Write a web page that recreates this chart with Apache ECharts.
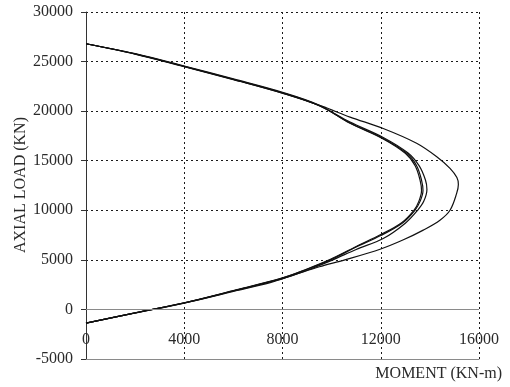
<!DOCTYPE html>
<html>
<head>
<meta charset="utf-8">
<script src="https://cdn.jsdelivr.net/npm/echarts@6/dist/echarts.min.js"></script>
<style>
  html, body { margin: 0; padding: 0; background: #fff; }
  #chart { width: 510px; height: 387px; }
</style>
</head>
<body>
<div id="chart"></div>
<script>
// Axial load – moment interaction curves (moment in KN-m, load in KN)
const xTicks = [0, 4000, 8000, 12000, 16000];
const yTicks = [-5000, 0, 5000, 10000, 15000, 20000, 25000, 30000];

const curveA = [
  [0, 26800], [2000, 25780], [4000, 24520], [6000, 23220], [8000, 21850],
  [9500, 20550], [10750, 18800], [12100, 17250], [13060, 15750], [13460, 14500],
  [13660, 13050], [13720, 12000], [13600, 10900], [13390, 10000], [12900, 8750],
  [12000, 7450], [11000, 6300], [10000, 5050], [9000, 4050], [8000, 3150],
  [6000, 1880], [4000, 660], [2000, -350], [0, -1380]
];
const curveB = [
  [0, 26800], [2000, 25760], [4000, 24500], [6000, 23190], [8000, 21820],
  [9500, 20550], [10750, 18900], [12100, 17350], [13100, 15800], [13560, 14500],
  [13820, 13050], [13880, 12100], [13750, 10900], [13500, 10000], [13000, 8700],
  [12100, 7150], [11000, 6050], [10050, 5000], [9000, 3950], [8000, 3100],
  [6000, 1860], [4000, 650], [2000, -350], [0, -1380]
];
const curveC = [
  [0, 26800], [2000, 25800], [4000, 24550], [6000, 23250], [8000, 21900],
  [9500, 20600], [10750, 18780], [12100, 17200], [13000, 15750], [13400, 14500],
  [13600, 13050], [13660, 12000], [13550, 10900], [13350, 10000], [12850, 8750],
  [12000, 7550], [11000, 6350], [9950, 5050], [9000, 4080], [8000, 3180],
  [6000, 1900], [4000, 670], [2000, -340], [0, -1380]
];
const curveD = [
  [0, 26800], [2000, 25750], [4000, 24480], [6000, 23180], [8000, 21800],
  [9600, 20500], [10750, 19400], [12100, 18250], [13460, 16760], [14280, 15400],
  [14820, 14230], [15100, 13300], [15160, 12600], [15090, 11700], [14820, 10000],
  [14410, 9000], [13730, 8000], [12900, 7000], [12000, 6100], [10540, 5000],
  [9500, 4300], [8500, 3500], [7500, 2700], [6000, 1820], [4000, 640],
  [2000, -360], [0, -1380]
];
const curves = [curveA, curveB, curveC, curveD];

const FONT = '"Liberation Serif", "Times New Roman", serif';
const TEXT = '#2a2a2a';
const dotted = { color: '#1a1a1a', width: 1, type: [2, 3] };
const plain = function (v) { return String(v); };

const chart = echarts.init(document.getElementById('chart'), null, { renderer: 'canvas' });

const series = curves.map(function (pts) {
  return {
    type: 'line',
    data: pts,
    showSymbol: false,
    smooth: 0.35,
    lineStyle: { color: '#111', width: 1.2 },
    z: 3
  };
});
// solid zero-load line across the plot
series[0].markLine = {
  silent: true, symbol: 'none', label: { show: false },
  lineStyle: { color: '#8a8a8a', type: 'solid', width: 1 },
  data: [{ yAxis: 0 }]
};

chart.setOption({
  animation: false,
  backgroundColor: '#ffffff',
  grid: { left: 86, right: 31, top: 12, bottom: 28, containLabel: false, outerBoundsMode: 'none' },
  xAxis: {
    type: 'value',
    position: 'bottom',
    min: xTicks[0], max: xTicks[xTicks.length - 1], interval: 4000,
    axisLine: { show: true, onZero: false, lineStyle: { color: '#8a8a8a', width: 1 } },
    axisTick: { show: false },
    axisLabel: { margin: -27, fontFamily: FONT, fontSize: 16, color: TEXT, formatter: plain },
    splitLine: { show: true, lineStyle: dotted }
  },
  yAxis: {
    type: 'value',
    min: yTicks[0], max: yTicks[yTicks.length - 1], interval: 5000,
    axisLine: { show: true, onZero: false, lineStyle: { color: '#333', width: 1 } },
    axisTick: { show: true, length: 5, lineStyle: { color: '#333' } },
    axisLabel: { margin: 13, fontFamily: FONT, fontSize: 16, color: TEXT, formatter: plain },
    splitLine: { show: true, lineStyle: dotted }
  },
  graphic: [
    {
      type: 'text', right: 8, top: 366,
      style: { text: 'MOMENT (KN-m)', font: '16px ' + FONT, fill: TEXT }
    },
    {
      type: 'text', x: 21, y: 185, rotation: Math.PI / 2,
      style: {
        text: 'AXIAL LOAD (KN)', font: '16px ' + FONT, fill: TEXT,
        align: 'center', verticalAlign: 'middle'
      }
    }
  ],
  series: series
});
</script>
</body>
</html>
